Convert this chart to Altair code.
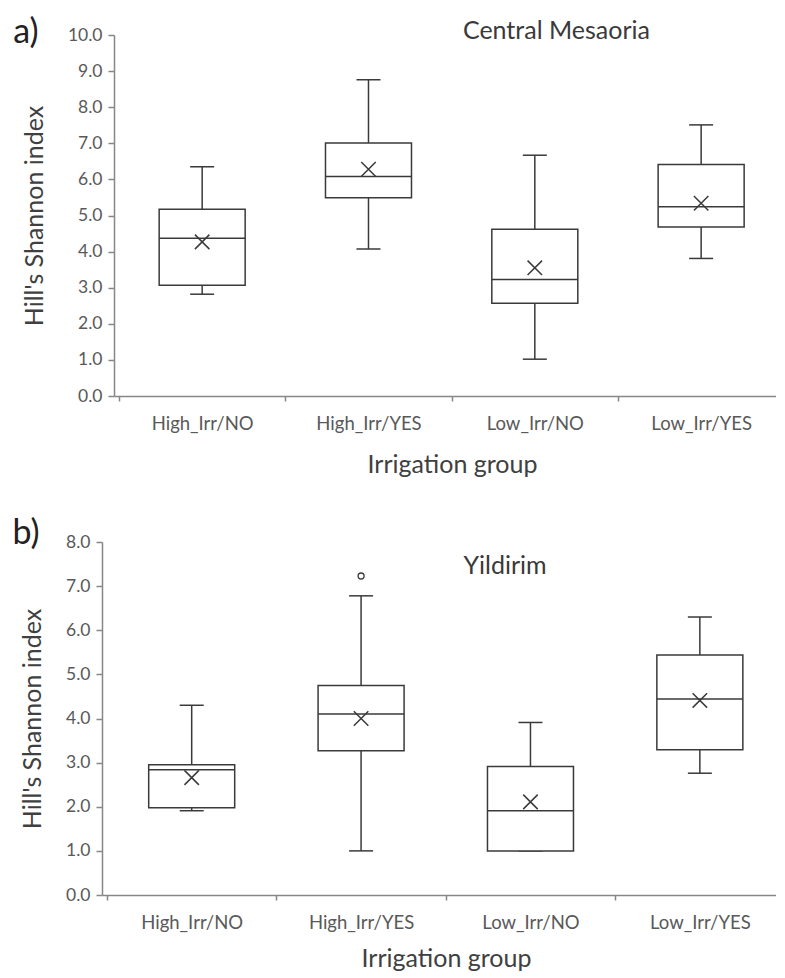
import altair as alt
import pandas as pd

groups = ["High_Irr/NO", "High_Irr/YES", "Low_Irr/NO", "Low_Irr/YES"]

# Panel a) Central Mesaoria
a_low = [2.82, 4.07, 1.02, 3.81]
a_q1 = [3.07, 5.49, 2.57, 4.68]
a_median = [4.37, 6.08, 3.23, 5.24]
a_q3 = [5.17, 7.01, 4.62, 6.41]
a_high = [6.35, 8.76, 6.67, 7.51]
a_mean = [4.27, 6.28, 3.55, 5.34]

# Panel b) Yildirim
b_low = [1.91, 1.00, 1.00, 2.76]
b_q1 = [1.98, 3.27, 1.00, 3.29]
b_median = [2.84, 4.10, 1.91, 4.44]
b_q3 = [2.95, 4.75, 2.91, 5.44]
b_high = [4.30, 6.78, 3.91, 6.30]
b_mean = [2.66, 4.00, 2.11, 4.41]
b_outlier_group = ["High_Irr/YES"]
b_outlier_value = [7.23]

FONT = "Lato"
LINE = "#3a3a3a"
AXIS = "#878787"
XMAX = 3.92
WIDTH = 674


def make_panel(low, q1, med, q3, high, mean, out_g, out_v, ymax, inset, height,
               name, name_pos, name_val, letter, letter_xy, title_x, xtitle_pad):
    pos = [i + 0.5 for i in range(len(groups))]
    df = pd.DataFrame({"group": groups, "pos": pos, "low": low, "q1": q1,
                       "median": med, "q3": q3, "high": high, "mean": mean})
    odf = pd.DataFrame({"group": out_g,
                        "pos": [groups.index(g) + 0.5 for g in out_g],
                        "val": out_v})
    label_list = "[" + ",".join("'" + g + "'" for g in groups) + "]"
    xaxis = alt.Axis(
        values=[v / 2 for v in range(0, 2 * len(groups))],
        labelExpr="datum.value % 1 === 0 ? '' : " + label_list + "[floor(datum.value)]",
        tickOpacity={"condition": {"test": "datum.value % 1 === 0", "value": 1}, "value": 0},
        labelOverlap=False, labelFlush=False, grid=False,
        tickSize=5, labelPadding=13, labelFontSize=18.5,
        title="Irrigation group", titleX=title_x, titlePadding=xtitle_pad,
        titleFontSize=25,
    )
    yaxis = alt.Axis(values=list(range(0, ymax + 1)), format=".1f", grid=False,
                     tickSize=6, labelPadding=6, labelFontSize=17.5, offset=-inset,
                     title="Hill's Shannon index", titleFontSize=25, titlePadding=20)
    xscale = alt.Scale(domain=[0, XMAX], nice=False, zero=False, range=[inset, WIDTH])
    yscale = alt.Scale(domain=[0, ymax], nice=False)
    X = alt.X("pos:Q", scale=xscale, axis=xaxis)

    def Y(f):
        return alt.Y(f + ":Q", scale=yscale, axis=yaxis)

    base = alt.Chart(df)
    whisk_lo = base.mark_rule(color=LINE, strokeWidth=1.5).encode(x=X, y=Y("low"), y2="q1:Q")
    whisk_hi = base.mark_rule(color=LINE, strokeWidth=1.5).encode(x=X, y=Y("q3"), y2="high:Q")
    cap_lo = base.mark_tick(orient="horizontal", size=24, thickness=1.5, color=LINE, opacity=1).encode(x=X, y=Y("low"))
    cap_hi = base.mark_tick(orient="horizontal", size=24, thickness=1.5, color=LINE, opacity=1).encode(x=X, y=Y("high"))
    box = base.mark_bar(size=86, fill="white", stroke=LINE, strokeWidth=1.5).encode(x=X, y=Y("q1"), y2="q3:Q")
    median = base.mark_tick(orient="horizontal", size=86, thickness=1.5, color=LINE, opacity=1).encode(x=X, y=Y("median"))
    meanpt = base.mark_point(shape="M-1,-1L1,1M-1,1L1,-1", size=210, filled=False,
                             color=LINE, strokeWidth=1.5, opacity=1).encode(x=X, y=Y("mean"))
    layers = [whisk_lo, whisk_hi, cap_lo, cap_hi, box, median, meanpt]
    if len(odf):
        outl = alt.Chart(odf).mark_point(shape="circle", size=36, fill="white", filled=True,
                                         stroke=LINE, strokeWidth=1.3, opacity=1).encode(x=X, y=Y("val"))
        layers.append(outl)
    ndf = pd.DataFrame({"pos": [name_pos], "val": [name_val], "label": [name]})
    name_txt = alt.Chart(ndf).mark_text(fontSize=25, font=FONT, color=LINE).encode(
        x=X, y=Y("val"), text="label:N")
    letter_txt = alt.Chart(ndf).mark_text(text=letter, fontSize=34, font=FONT, color="#222222").encode(
        x=alt.value(letter_xy[0]), y=alt.value(letter_xy[1]))
    layers += [name_txt, letter_txt]
    return alt.layer(*layers).properties(width=WIDTH, height=height)


pa = make_panel(a_low, a_q1, a_median, a_q3, a_high, a_mean, [], [], 10, 12, 361,
                "Central Mesaoria", 2.63, 10.1, "a)", (-76, -2), 350, 20)
pb = make_panel(b_low, b_q1, b_median, b_q3, b_high, b_mean, b_outlier_group, b_outlier_value,
                8, 0, 353, "Yildirim", 2.35, 7.46, "b)", (-76, -8), 344, 15)

chart = alt.vconcat(pa, pb, spacing=39).properties(
    padding={"left": 4, "top": 8, "right": 0, "bottom": 0}
).configure(font=FONT).configure_view(stroke=None).configure_axis(
    domainColor=AXIS, tickColor=AXIS, domainWidth=1.5, tickWidth=1.5,
    labelColor="#595959", titleColor="#404040", labelFont=FONT, titleFont=FONT,
    titleFontWeight="normal",
)

chart.save("out.html", embed_options={"renderer": "svg", "actions": False})
